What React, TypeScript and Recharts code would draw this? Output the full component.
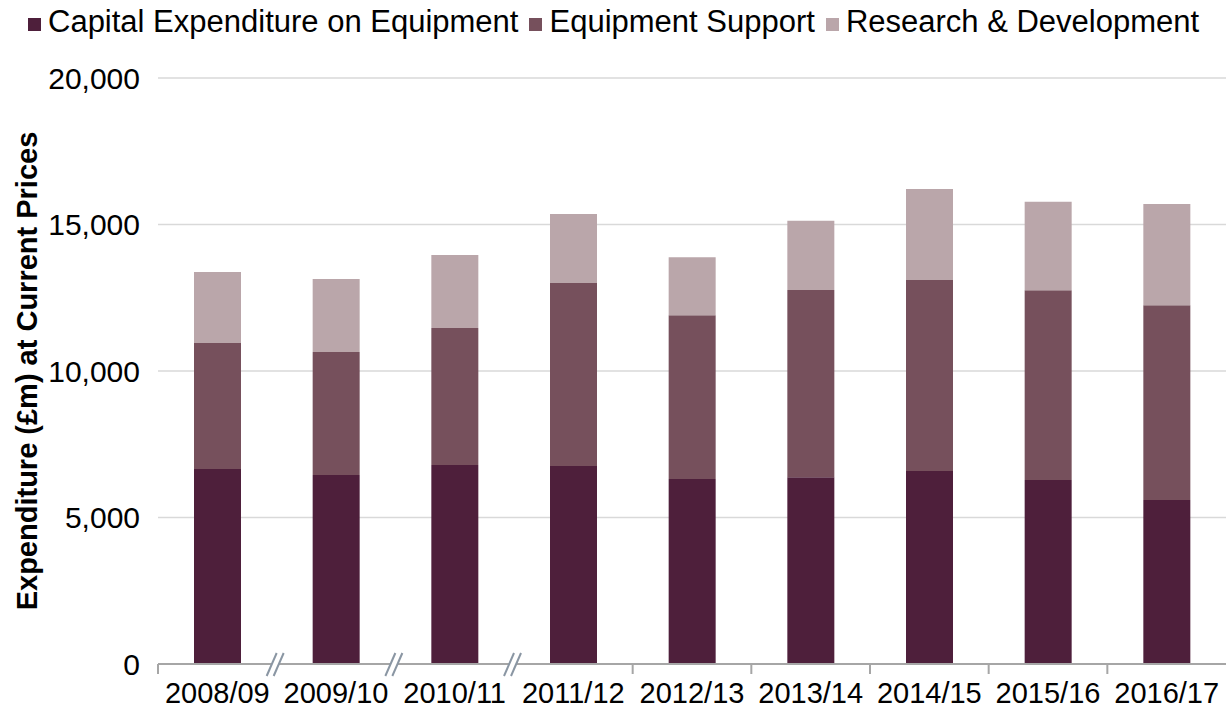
import { BarChart, Bar, XAxis, YAxis, CartesianGrid, Legend } from 'recharts';

const categories = ['2008/09', '2009/10', '2010/11', '2011/12', '2012/13', '2013/14', '2014/15', '2015/16', '2016/17'];
const capital = [6655, 6450, 6790, 6760, 6310, 6370, 6590, 6280, 5600];
const support = [4300, 4200, 4680, 6240, 5590, 6395, 6515, 6475, 6640];
const research = [2420, 2490, 2490, 2360, 1980, 2365, 3105, 3025, 3460];
const yTicks = [0, 5000, 10000, 15000, 20000];

const seriesNames = ['Capital Expenditure on Equipment', 'Equipment Support', 'Research & Development'];
const colors = ['#4e1f3b', '#76505c', '#baa6aa'];

const W = 1226;
const H = 713;
const Y_AXIS_W = 158;
const LEGEND_H = 44;
const band = (W - Y_AXIS_W) / categories.length;
const FONT = "'Liberation Sans', Arial, sans-serif";

const data = categories.map((year, i) => ({
  year,
  capital: capital[i],
  support: support[i],
  research: research[i],
}));

// draws label, boundary ticks and the axis-break marks for the first gaps
const renderTick = (props: any) => {
  const { x, y, payload, index } = props;
  const bx = x - band / 2;
  const hasBreak = index >= 1 && index <= 3;
  return (
    <g>
      {hasBreak ? (
        <g>
          <polygon
            points={`${bx - 10},${y + 12} ${bx},${y - 11} ${bx + 7},${y - 11} ${bx - 3},${y + 12}`}
            fill="#fff"
          />
          <line x1={bx - 10} y1={y + 12} x2={bx} y2={y - 11} stroke="#8a96a3" strokeWidth={2} />
          <line x1={bx - 3} y1={y + 12} x2={bx + 7} y2={y - 11} stroke="#8a96a3" strokeWidth={2} />
        </g>
      ) : (
        <line x1={bx} y1={y} x2={bx} y2={y + 10} stroke="#a6a6a6" strokeWidth={2} />
      )}
      <text x={x} y={y + 39} textAnchor="middle" fontSize={29} fill="#000" fontFamily={FONT}>
        {payload.value}
      </text>
    </g>
  );
};

const renderLegend = () => (
  <div
    style={{
      height: LEGEND_H,
      display: 'flex',
      alignItems: 'center',
      paddingLeft: 28,
      fontFamily: FONT,
      fontSize: 31,
      color: '#000',
      boxSizing: 'border-box',
    }}
  >
    {seriesNames.map((name, i) => (
      <div key={name} style={{ display: 'flex', alignItems: 'center', marginRight: 11 }}>
        <span style={{ width: 13, height: 13, background: colors[i], marginRight: 7, display: 'inline-block', marginTop: 4 }} />
        <span>{name}</span>
      </div>
    ))}
  </div>
);

const renderYLabel = () => (
  <text
    x={27}
    y={371}
    transform="rotate(-90, 27, 371)"
    textAnchor="middle"
    dominantBaseline="central"
    fontSize={29}
    fontWeight="bold"
    fontFamily={FONT}
    fill="#000"
  >
    Expenditure (£m) at Current Prices
  </text>
);

export default function App() {
  return (
    <div style={{ position: 'absolute', left: 0, top: 0, width: W, height: H, background: '#fff' }}>
      <BarChart width={W} height={H} data={data} margin={{ top: 78 - LEGEND_H, right: 0, left: 0, bottom: 0 }}>
        <CartesianGrid vertical={false} stroke="#d9d9d9" strokeWidth={1.5} />
        <Legend
          verticalAlign="top"
          align="left"
          content={renderLegend}
          wrapperStyle={{ top: 0, left: 0, width: W, height: LEGEND_H }}
        />
        <XAxis
          dataKey="year"
          interval={0}
          height={49}
          tickLine={false}
          tickSize={0}
          tickMargin={0}
          axisLine={{ stroke: '#a6a6a6', strokeWidth: 2 }}
          tick={renderTick}
        />
        <YAxis
          width={Y_AXIS_W}
          domain={[0, 20000]}
          ticks={yTicks}
          axisLine={false}
          tickLine={false}
          tickMargin={12}
          tick={{ fontSize: 30, fill: '#000', fontFamily: FONT }}
          tickFormatter={(v: number) => v.toLocaleString('en-GB')}
          label={renderYLabel}
        />
        <Bar dataKey="capital" name={seriesNames[0]} stackId="a" fill={colors[0]} barSize={47} isAnimationActive={false} />
        <Bar dataKey="support" name={seriesNames[1]} stackId="a" fill={colors[1]} barSize={47} isAnimationActive={false} />
        <Bar dataKey="research" name={seriesNames[2]} stackId="a" fill={colors[2]} barSize={47} isAnimationActive={false} />
      </BarChart>
    </div>
  );
}
